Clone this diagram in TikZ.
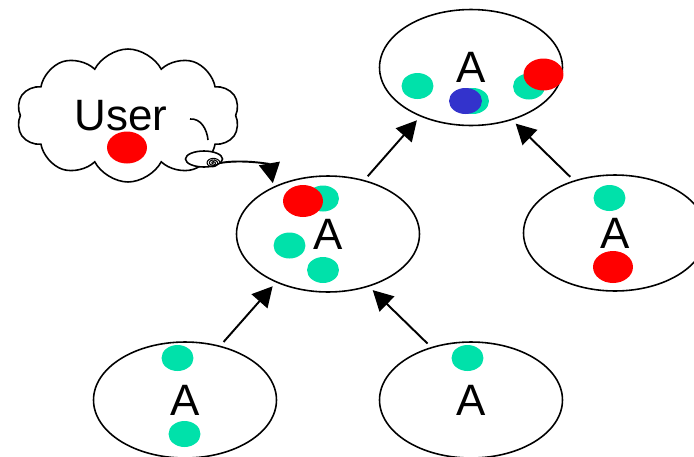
\documentclass[tikz,border=0pt]{standalone}
\usepackage{fontspec}
\setmainfont{Liberation Sans}
\usepackage{tikz}
\usetikzlibrary{arrows.meta,shapes.geometric,shapes.symbols}
\definecolor{dotgreen}{RGB}{0,225,170}
\definecolor{dotblue}{RGB}{51,51,204}

\begin{document}
\begin{tikzpicture}[x=0.02cm,y=-0.02cm]

  %Styles for picture
  \tikzset
  {
  peer/.style={ellipse, draw, line width=0.9pt, inner sep=0pt, minimum width=3.66cm, minimum height=2.32cm, font=\fontsize{25}{30}\selectfont},
  greendot/.style={ellipse, inner sep=0pt, minimum width=0.64cm, minimum height=0.52cm, fill=dotgreen},
  reddot/.style={ellipse, inner sep=0pt, minimum width=0.8cm, minimum height=0.64cm, fill=red},
  bluedot/.style={ellipse, inner sep=0pt, minimum width=0.66cm, minimum height=0.52cm, fill=dotblue},
  link/.style={-{Triangle[length=0.4cm,width=0.42cm]}, line width=1.1pt, shorten <=0.1cm, shorten >=0.1cm},
  }

  \useasboundingbox (0,0) rectangle (694,457);

  % Thought cloud
  \node[cloud, draw, line width=0.9pt, cloud puffs=10, cloud puff arc=125, cloud ignores aspect, minimum width=4.46cm, minimum height=2.66cm] (cloud) at (128,115.5) {};
  \draw[line width=0.9pt] (190,119) to[out=5, in=95] (208,140);
  \node[ellipse, draw, fill=white, line width=0.9pt, inner sep=0pt, minimum width=0.74cm, minimum height=0.32cm] (bubble) at (204,159) {};
  \draw[line width=0.6pt] plot[domain=0:1080, samples=120, smooth] ({213+7*\x/1080*cos(\x)}, {163+5*\x/1080*sin(\x)});
  \coordinate (tail) at (220,163);
  \node[font=\fontsize{25}{30}\selectfont] (user) at (121,115.5) {User};
  \node[reddot] (u1) at (127,147.5) {};

  % Nodes
  \node[peer] (top) at (471,67.5) {A};
  \node[peer] (mid) at (328,234) {A};
  \node[peer] (right) at (615,233) {A};
  \node[peer] (bl) at (185,400) {A};
  \node[peer] (br) at (471,400) {A};

  % Dots
  \node[greendot] (t1) at (417.5,86) {};
  \node[greendot] (t2) at (473,101) {};
  \node[bluedot] (t3) at (465.5,101) {};
  \node[greendot] (t4) at (529,86.5) {};
  \node[reddot] (t5) at (543.5,74.5) {};

  \node[greendot] (m1) at (323,198.5) {};
  \node[reddot] (m2) at (303,201) {};
  \node[greendot] (m3) at (289.5,245.5) {};
  \node[greendot] (m4) at (323,270) {};

  \node[greendot] (r1) at (609.5,198) {};
  \node[reddot] (r2) at (613,267) {};

  \node[greendot] (b1) at (177.5,358) {};
  \node[greendot] (b2) at (184.5,434) {};
  \node[greendot] (b3) at (467.5,358) {};

  % Edges
  \draw[link] (bl.57) -- (mid.223.4);
  \draw[link] (br.127.7) -- (mid.308.4);
  \draw[link] (mid.56.8) -- (top.224.2);
  \draw[link] (right.128.3) -- (top.308.8);
  \draw[link, shorten <=0pt, shorten >=0.07cm] (tail) to[out=10, in=100] (mid.139.3); % bendy
\end{tikzpicture}
\end{document}
